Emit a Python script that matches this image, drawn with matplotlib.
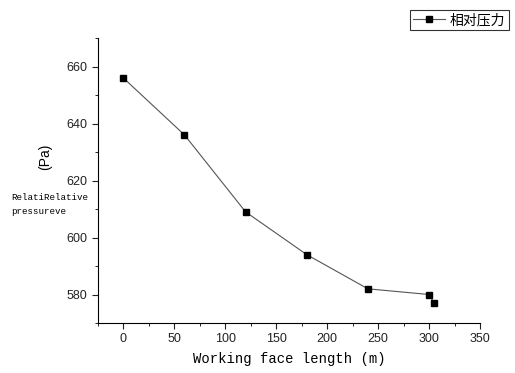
import matplotlib.pyplot as plt
from matplotlib.ticker import MultipleLocator

# Data
length = [0, 60, 120, 180, 240, 300, 305]
pressure = [656, 636, 609, 594, 582, 580, 577]

plt.rcParams['font.family'] = ['Liberation Sans', 'DejaVu Sans']

fig = plt.figure(figsize=(5.15, 3.73), dpi=100)
ax = fig.add_axes([0.190, 0.134, 0.742, 0.764])

ax.plot(length, pressure, color='#555555', linewidth=0.8, marker='s',
        markersize=5, markerfacecolor='black', markeredgecolor='black',
        label='相对压力')

ax.set_xlim(-25, 350)
ax.set_ylim(570, 670)
ax.xaxis.set_major_locator(MultipleLocator(50))
ax.xaxis.set_minor_locator(MultipleLocator(25))
ax.yaxis.set_major_locator(MultipleLocator(20))
ax.yaxis.set_minor_locator(MultipleLocator(10))
ax.spines['top'].set_visible(False)
ax.spines['right'].set_visible(False)
ax.tick_params(which='major', direction='out', length=4, labelsize=9, colors='#222222')
ax.tick_params(which='minor', direction='out', length=2.5)

ax.set_xlabel('Working face length (m)', family=['Liberation Mono', 'DejaVu Sans Mono'],
              fontsize=10, labelpad=5)

fig.text(0.087, 0.58, '(Pa)', rotation=90, fontsize=10, ha='center', va='center')
fig.text(0.022, 0.452, 'RelatiRelative\npressureve', family=['Liberation Mono', 'DejaVu Sans Mono'],
         fontsize=6.6, ha='left', va='center', linespacing=1.7)

leg = fig.legend(loc='upper left', bbox_to_anchor=(0.782, 0.993), frameon=True,
                 fancybox=False, edgecolor='black', handlelength=2.3, handletextpad=0.35,
                 borderpad=0.25, prop={'family': ['Noto Sans CJK SC'], 'size': 10})
leg.get_frame().set_linewidth(0.8)

fig.savefig('out.png', dpi=100)
